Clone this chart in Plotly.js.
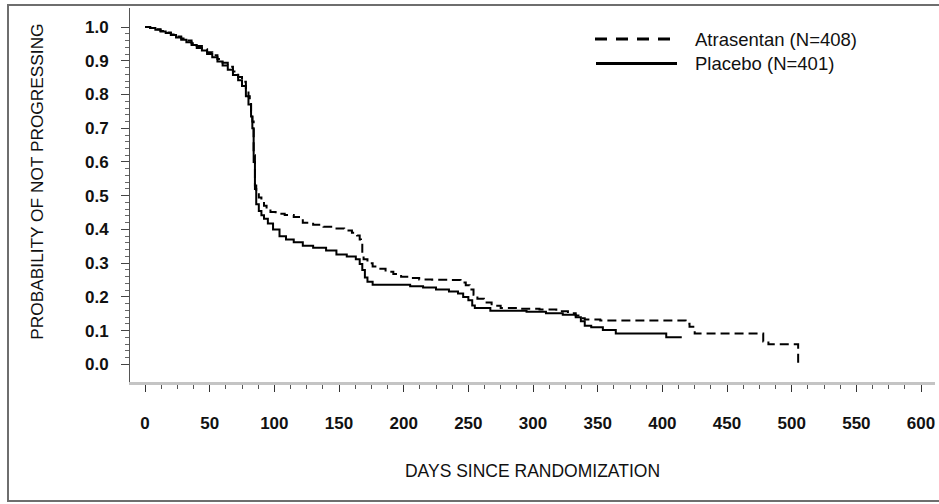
<!DOCTYPE html>
<html>
<head>
<meta charset="utf-8">
<script src="https://cdn.plot.ly/plotly-3.0.1.min.js"></script>
<style>
  html, body { margin: 0; padding: 0; background: #ffffff; }
  #chart { width: 939px; height: 504px; }
</style>
</head>
<body>
<div id="chart"></div>
<script>
// ---- Data ----
const seriesNames = ["Atrasentan (N=408)", "Placebo (N=401)"];

const atrasentanDays = [0, 4, 8, 12, 16, 20, 24, 28, 32, 36, 40, 44, 48, 52, 56, 60, 64, 68, 72, 75,
  78, 80, 81, 82, 83, 84, 85, 86, 88, 90, 92, 94, 97, 101, 108, 115, 122, 130, 138, 146,
  154, 160, 164, 166, 167, 168, 169, 172, 176, 180, 186, 192, 198, 205, 212, 222, 235, 244, 248, 251,
  254, 257, 262, 268, 275, 290, 305, 318, 327, 333, 336, 340, 352, 418, 421, 425, 478, 482, 505];
const atrasentanProb = [1.0, 0.997, 0.993, 0.988, 0.984, 0.978, 0.972, 0.966, 0.96, 0.952, 0.944, 0.934, 0.925, 0.916, 0.905, 0.894, 0.882, 0.868, 0.852, 0.838,
  0.815, 0.795, 0.775, 0.75, 0.72, 0.62, 0.53, 0.512, 0.495, 0.482, 0.47, 0.46, 0.452, 0.447, 0.443, 0.437, 0.42, 0.414, 0.408, 0.403,
  0.397, 0.39, 0.382, 0.37, 0.355, 0.33, 0.312, 0.3, 0.29, 0.284, 0.275, 0.268, 0.26, 0.256, 0.252, 0.251, 0.25, 0.243, 0.235, 0.222,
  0.207, 0.195, 0.184, 0.174, 0.167, 0.165, 0.163, 0.158, 0.152, 0.145, 0.137, 0.133, 0.130, 0.121, 0.112, 0.092, 0.068, 0.060, 0.0];

const placeboDays = [0, 4, 8, 12, 16, 20, 24, 28, 32, 36, 40, 44, 48, 52, 56, 60, 64, 68, 72, 75,
  78, 80, 82, 83, 84, 85, 86, 88, 90, 92, 95, 99, 104, 109, 115, 122, 130, 140, 148, 156,
  163, 166, 168, 170, 172, 176, 205, 215, 225, 235, 242, 246, 250, 253, 255, 267, 295, 310, 323, 333,
  337, 340, 345, 354, 364, 403, 415];
const placeboProb = [1.0, 0.997, 0.992, 0.987, 0.982, 0.976, 0.969, 0.962, 0.955, 0.947, 0.938, 0.93, 0.92, 0.91, 0.898, 0.886, 0.873, 0.858, 0.842, 0.825,
  0.795, 0.77, 0.735, 0.70, 0.60, 0.52, 0.475, 0.455, 0.442, 0.432, 0.418, 0.40, 0.38, 0.37, 0.362, 0.352, 0.346, 0.338, 0.326, 0.32,
  0.312, 0.298, 0.28, 0.258, 0.245, 0.236, 0.232, 0.228, 0.222, 0.216, 0.21, 0.2, 0.19, 0.175, 0.167, 0.159, 0.156, 0.152, 0.147, 0.14,
  0.128, 0.115, 0.11, 0.102, 0.092, 0.081, 0.081];

const xTickVals = [0, 50, 100, 150, 200, 250, 300, 350, 400, 450, 500, 550, 600];
const xTickLabels = ["0", "50", "100", "150", "200", "250", "300", "350", "400", "450", "500", "550", "600"];
const yTickVals = [0.0, 0.1, 0.2, 0.3, 0.4, 0.5, 0.6, 0.7, 0.8, 0.9, 1.0];
const yTickLabels = ["0.0", "0.1", "0.2", "0.3", "0.4", "0.5", "0.6", "0.7", "0.8", "0.9", "1.0"];

const xTitle = "DAYS SINCE RANDOMIZATION";
const yTitle = "PROBABILITY OF NOT PROGRESSING";

// ---- Minor tick positions (axis decoration) ----
const xMinor = [];
for (let v = 0; v <= 600.001; v += 12.5) xMinor.push(v);
const yMinor = [];
for (let i = 0; i <= 50; i++) yMinor.push(+(i * 0.02).toFixed(2));

// ---- Geometry helpers (pixel -> paper) ----
const W = 939, H = 504;
const M = { l: 130, r: 4, t: 8, b: 122 };
const PW = W - M.l - M.r, PH = H - M.t - M.b;
const px = x => (x - M.l) / PW;
const py = y => (H - M.b - y) / PH;

const FONT = "Liberation Sans, Arial, Helvetica, sans-serif";

const traces = [
  {
    type: "scatter", mode: "lines", name: seriesNames[0],
    x: atrasentanDays, y: atrasentanProb,
    line: { shape: "hv", color: "#000000", width: 2, dash: "9px,5px" },
    showlegend: false, hoverinfo: "x+y"
  },
  {
    type: "scatter", mode: "lines", name: seriesNames[1],
    x: placeboDays, y: placeboProb,
    line: { shape: "hv", color: "#000000", width: 2 },
    showlegend: false, hoverinfo: "x+y"
  }
];

const layout = {
  width: W, height: H,
  margin: M,
  paper_bgcolor: "#ffffff",
  plot_bgcolor: "#ffffff",
  showlegend: false,
  font: { family: FONT, color: "#111111" },
  xaxis: {
    range: [-11.6, 610.8],
    tickmode: "array", tickvals: xTickVals, ticktext: xTickLabels,
    ticks: "outside", ticklen: 7, tickwidth: 1, tickcolor: "#333333",
    minor: { tickmode: "array", tickvals: xMinor, ticks: "outside", ticklen: 4, tickwidth: 1, tickcolor: "#555555" },
    showline: true, linecolor: "#c4c4c4", linewidth: 3,
    showgrid: false, zeroline: false,
    tickfont: { family: FONT, size: 17, color: "#111111", weight: "bold" },
    ticklabelstandoff: 17,
    title: { text: xTitle, font: { family: FONT, size: 17.5, color: "#111111" }, standoff: 33 },
    fixedrange: true
  },
  yaxis: {
    range: [-0.0519, 1.0563],
    tickmode: "array", tickvals: yTickVals, ticktext: yTickLabels,
    ticks: "outside", ticklen: 8, tickwidth: 1, tickcolor: "#444444",
    minor: { tickmode: "array", tickvals: yMinor, ticks: "outside", ticklen: 4, tickwidth: 1, tickcolor: "#666666" },
    showline: true, linecolor: "#555555", linewidth: 1,
    showgrid: false, zeroline: false,
    tickfont: { family: FONT, size: 17, color: "#111111", weight: "bold" },
    ticklabelstandoff: 9,
    fixedrange: true
  },
  shapes: [
    // outer frame of the figure
    { type: "rect", xref: "paper", yref: "paper",
      x0: px(8), x1: px(942), y0: py(501), y1: py(5),
      line: { color: "#6e6e6e", width: 2 }, fillcolor: "rgba(0,0,0,0)", layer: "below" },
    // legend samples
    { type: "line", xref: "paper", yref: "paper",
      x0: px(595), x1: px(672), y0: py(39), y1: py(39),
      line: { color: "#000000", width: 3, dash: "12px,9px" } },
    { type: "line", xref: "paper", yref: "paper",
      x0: px(596), x1: px(677), y0: py(63.5), y1: py(63.5),
      line: { color: "#000000", width: 3 } }
  ],
  annotations: [
    { xref: "paper", yref: "paper", x: px(693), y: py(39), xanchor: "left", yanchor: "middle",
      text: seriesNames[0], showarrow: false, font: { family: FONT, size: 18.5, color: "#111111" } },
    { xref: "paper", yref: "paper", x: px(693), y: py(63.5), xanchor: "left", yanchor: "middle",
      text: seriesNames[1], showarrow: false, font: { family: FONT, size: 18.5, color: "#111111" } },
    { xref: "paper", yref: "paper", x: px(36.7), y: py(182), xanchor: "center", yanchor: "middle",
      textangle: -90, text: yTitle, showarrow: false, font: { family: FONT, size: 17.3, color: "#111111" } }
  ]
};

Plotly.newPlot("chart", traces, layout, { displayModeBar: false, staticPlot: true });
</script>
</body>
</html>
